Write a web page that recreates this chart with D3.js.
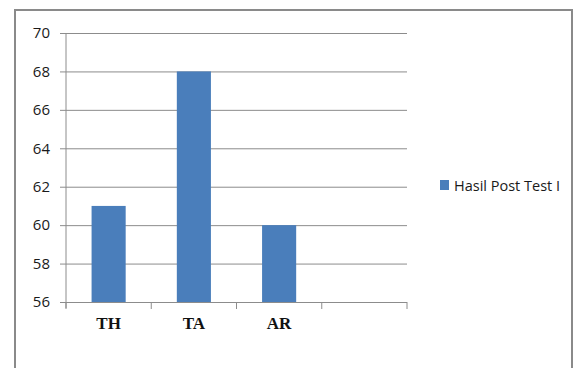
<!DOCTYPE html>
<html>
<head>
<meta charset="utf-8">
<script src="https://cdn.jsdelivr.net/npm/d3@7"></script>
<style>
  html, body { margin: 0; padding: 0; background: #fff; }
  svg { display: block; }
</style>
</head>
<body>
<svg id="chart" width="574" height="368"></svg>
<script>
// Post test results per student
const categories = ["TH", "TA", "AR", ""];
const values = [61, 68, 60, null];
const yTicks = [56, 58, 60, 62, 64, 66, 68, 70];
const seriesName = "Hasil Post Test I";

const svg = d3.select("#chart");
const barColor = "#4a7ebb";
const gridColor = "#8c8c8c";

// Outer frame
svg.append("rect")
  .attr("x", 15).attr("y", 10)
  .attr("width", 557).attr("height", 370)
  .attr("fill", "#fff")
  .attr("stroke", "#8a8a8a")
  .attr("stroke-width", 2);

const plot = { left: 66, right: 407, top: 33, bottom: 302 };

const x = d3.scaleBand()
  .domain(categories.map((c, i) => i))
  .range([plot.left, plot.right])
  .paddingInner(0.6)
  .paddingOuter(0.3);

const y = d3.scaleLinear()
  .domain([56, 70])
  .range([plot.bottom, plot.top]);

// Horizontal gridlines with y tick marks
const yAxis = d3.axisLeft(y)
  .tickValues(yTicks)
  .tickSize(-(plot.right - plot.left))
  .tickPadding(16)
  .tickFormat(d3.format("d"));

const gy = svg.append("g")
  .attr("transform", `translate(${plot.left},0)`)
  .call(yAxis);
gy.select(".domain").remove();
gy.selectAll(".tick line")
  .attr("stroke", gridColor)
  .attr("x1", -6);
gy.selectAll(".tick text")
  .attr("font-family", "'Open Sans', 'Liberation Sans', sans-serif")
  .attr("font-size", 15)
  .attr("fill", "#1a1a1a");

// Vertical axis line
svg.append("line")
  .attr("x1", plot.left).attr("x2", plot.left)
  .attr("y1", plot.top).attr("y2", plot.bottom + 6)
  .attr("stroke", gridColor);

// Bars
svg.selectAll("rect.bar")
  .data(values.map((v, i) => ({ v, i })).filter(d => d.v != null))
  .enter().append("rect")
  .attr("class", "bar")
  .attr("x", d => x(d.i))
  .attr("width", x.bandwidth())
  .attr("y", d => y(d.v))
  .attr("height", d => y(56) - y(d.v))
  .attr("fill", barColor);

// Category boundary ticks on the x axis
const boundaries = d3.range(categories.length + 1)
  .map(i => plot.left + i * (plot.right - plot.left) / categories.length);
svg.selectAll("line.xtick")
  .data(boundaries)
  .enter().append("line")
  .attr("class", "xtick")
  .attr("x1", d => d).attr("x2", d => d)
  .attr("y1", plot.bottom).attr("y2", plot.bottom + 7)
  .attr("stroke", gridColor);

// Category labels
svg.selectAll("text.cat")
  .data(categories)
  .enter().append("text")
  .attr("class", "cat")
  .attr("x", (d, i) => x(i) + x.bandwidth() / 2)
  .attr("y", 329)
  .attr("text-anchor", "middle")
  .attr("font-family", "'Liberation Serif', 'Times New Roman', serif")
  .attr("font-weight", "bold")
  .attr("font-size", 17)
  .attr("fill", "#111")
  .text(d => d);

// Legend
const lg = svg.append("g").attr("transform", "translate(440,180)");
lg.append("rect")
  .attr("width", 9).attr("height", 10)
  .attr("fill", barColor);
lg.append("text")
  .attr("x", 14).attr("y", 10.5)
  .attr("font-family", "'Open Sans', 'Liberation Sans', sans-serif")
  .attr("font-size", 14.5)
  .attr("fill", "#1a1a1a")
  .text(seriesName);
</script>
</body>
</html>
